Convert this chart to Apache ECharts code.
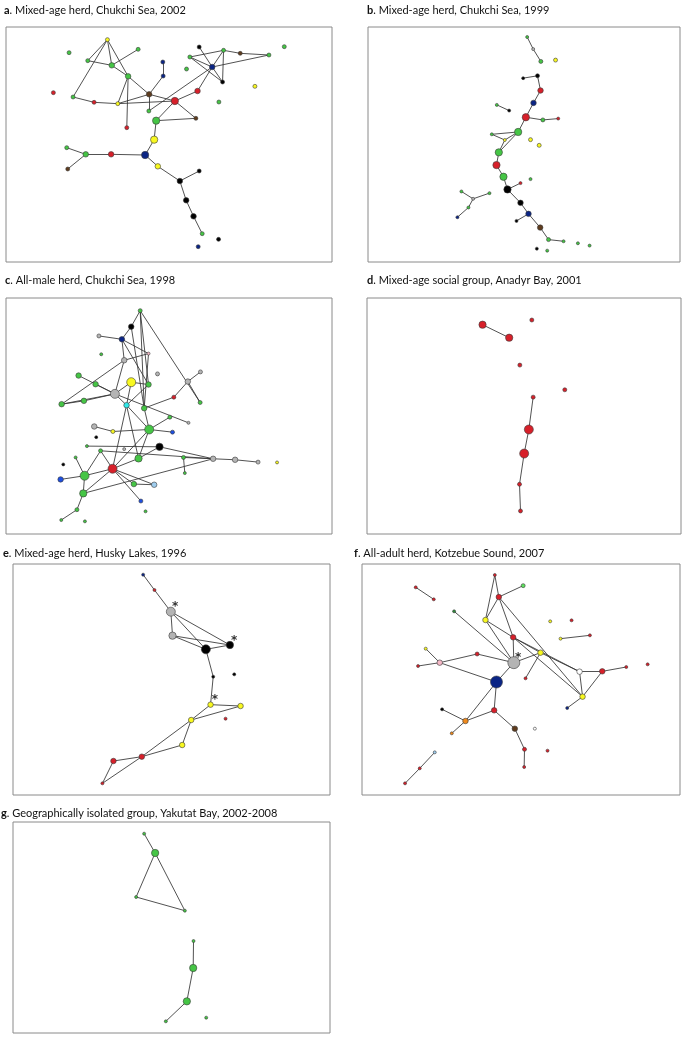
<!DOCTYPE html>
<html><head><meta charset="utf-8">
<script src="https://cdn.jsdelivr.net/npm/echarts/dist/echarts.min.js"></script>
<style>html,body{margin:0;padding:0;background:#fff}#c{width:685px;height:1038px}</style>
</head><body><div id="c"></div><script>
// ---- DATA (node: [x, y, sizeClass, colourKey, starFlag]; edges: [from, to], 1-based) ----
const titleLetters = ['a','b','c','d','e','f','g'];
const titleTexts = [
  'Mixed-age herd, Chukchi Sea, 2002',
  'Mixed-age herd, Chukchi Sea, 1999',
  'All-male herd, Chukchi Sea, 1998',
  'Mixed-age social group, Anadyr Bay, 2001',
  'Mixed-age herd, Husky Lakes, 1996',
  'All-adult herd, Kotzebue Sound, 2007',
  'Geographically isolated group, Yakutat Bay, 2002-2008'
];

const aNodes = [
 [322,118,2,'Y'],[207,157,2,'G'],[414,147,2,'G'],[263,181,2,'G'],[335,195,3,'G'],[384,228,3,'G'],
 [488,185,2,'N'],[489,227,2,'N'],[559,206,2,'G'],[597,140,2,'K'],[569,170,2,'G'],[670,150,2,'G'],
 [720,159,2,'B'],[806,164,2,'G'],[852,139,2,'G'],[636,200,3,'N'],[667,245,2,'K'],[764,258,2,'Y'],
 [160,277,2,'R'],[219,290,2,'G'],[282,306,2,'R'],[353,310,2,'Y'],[447,282,3,'B'],[524,302,4,'R'],
 [592,272,3,'R'],[656,305,2,'G'],[446,332,2,'G'],[380,382,2,'R'],[587,354,2,'B'],[468,361,4,'G'],
 [462,418,4,'Y'],[435,464,4,'N'],[200,442,2,'G'],[257,462,3,'G'],[333,462,3,'R'],[203,506,2,'B'],
 [473,498,3,'Y'],[539,542,3,'K'],[597,512,2,'K'],[558,600,3,'K'],[580,648,3,'K'],[606,700,2,'G'],
 [655,717,2,'K'],[594,739,2,'N']
];
const aEdges = [
 [1,4],[1,5],[1,6],[1,20],[4,5],[5,3],[5,6],[6,22],[6,28],[6,23],[20,21],[21,22],[22,23],[22,24],
 [23,8],[7,8],[23,24],[23,27],[24,25],[25,16],[27,16],[30,24],[24,29],[30,29],
 [16,10],[16,17],[16,11],[16,12],[16,14],[11,12],[11,17],[12,17],[12,13],[13,14],
 [30,31],[31,32],[32,35],[35,34],[34,33],[34,36],[32,37],[37,38],[38,39],[38,40],[40,41],[41,42]
];

const bNodes = [
 [502,112,1,'G'],[520,148,1,'W'],[543,185,2,'G'],[587,181,2,'Y'],[490,235,1,'K'],[533,228,2,'K'],
 [542,272,3,'R'],[521,309,3,'N'],[411,315,1,'G'],[448,332,1,'K'],[498,352,4,'R'],[549,360,2,'G'],
 [595,356,1,'R'],[475,396,4,'G'],[396,403,1,'G'],[435,420,1,'Y'],[512,419,2,'Y'],[538,436,2,'Y'],
 [417,457,4,'G'],[410,495,4,'R'],[431,530,4,'G'],[482,549,1,'R'],[512,537,1,'G'],[443,568,4,'K'],
 [305,574,1,'G'],[389,579,1,'G'],[340,596,1,'W'],[326,622,1,'G'],[293,651,1,'N'],[482,608,3,'K'],
 [506,641,3,'N'],[470,662,1,'K'],[541,682,3,'B'],[566,718,2,'G'],[611,723,1,'G'],[654,729,1,'G'],
 [689,736,1,'G'],[531,745,1,'K'],[562,751,1,'G']
];
const bEdges = [
 [1,2],[2,3],[5,6],[6,7],[7,8],[8,11],[9,10],[11,12],[12,13],[11,14],[14,15],[14,16],[15,16],
 [16,19],[14,19],[19,20],[20,21],[21,24],[24,22],[24,30],[30,31],[31,32],[31,33],[33,34],[34,35],
 [25,27],[26,27],[27,28],[28,29]
];

const cNodes = [
 [421,91,2,'G'],[394,139,3,'K'],[297,167,2,'W'],[366,177,3,'N'],[304,222,1,'G'],[446,220,1,'P'],
 [373,240,3,'W'],[473,281,2,'W'],[602,275,2,'W'],[564,304,3,'W'],[236,286,3,'G'],[287,312,3,'G'],
 [394,306,5,'Y'],[446,313,3,'G'],[345,341,5,'W'],[252,362,3,'G'],[185,372,3,'G'],[522,351,2,'R'],
 [601,367,2,'G'],[380,375,3,'C'],[433,384,3,'G'],[510,411,2,'G'],[566,428,1,'W'],[283,439,3,'W'],
 [339,454,2,'Y'],[448,448,5,'G'],[518,456,2,'U'],[289,471,1,'K'],[479,500,4,'K'],[261,498,1,'G'],
 [373,507,1,'W'],[302,512,2,'G'],[416,535,4,'G'],[551,532,2,'G'],[640,536,3,'W'],[706,539,3,'W'],
 [775,546,2,'W'],[832,547,1,'Y'],[190,553,1,'K'],[227,532,1,'G'],[338,566,5,'R'],[254,587,5,'G'],
 [182,598,3,'U'],[555,579,1,'G'],[402,612,3,'G'],[463,614,3,'L'],[250,640,4,'G'],[423,663,2,'U'],
 [437,694,1,'G'],[231,689,2,'G'],[184,720,1,'G'],[255,724,1,'G']
];
const cEdges = [
 [1,2],[1,14],[1,21],[1,19],[2,4],[2,21],[3,4],[4,6],[4,7],[4,14],[6,7],[6,21],[7,15],[17,7],
 [10,9],[10,18],[10,19],[18,21],[11,15],[12,15],[16,15],[17,15],[17,16],[13,15],[13,14],[13,20],
 [15,20],[15,23],[20,26],[20,33],[20,41],[20,14],[21,26],[22,26],[24,25],[25,26],[26,27],[26,41],
 [29,30],[29,35],[29,33],[32,35],[32,41],[32,42],[40,42],[42,43],[42,47],[42,41],[41,45],[41,46],
 [41,48],[41,33],[45,46],[47,41],[47,35],[47,50],[50,51],[34,35],[34,44],[35,36],[36,37],[33,26]
];

const dNodes = [
 [369,135,4,'R'],[449,174,4,'R'],[517,121,2,'R'],[481,256,2,'R'],[616,330,2,'R'],
 [521,352,2,'R'],[508,449,5,'R'],[494,521,5,'R'],[480,613,2,'R'],[483,693,2,'R']
];
const dEdges = [[1,2],[6,7],[7,8],[8,9],[9,10]];

const eNodes = [
 [415,74,1,'N'],[449,120,1,'R'],[498,185,5,'W',1],[503,257,4,'W'],[603,298,5,'K'],[675,285,4,'K',1],
 [625,380,1,'K'],[688,373,1,'K'],[617,464,3,'Y',1],[707,468,3,'Y'],[559,510,3,'Y'],[662,506,1,'R'],
 [532,585,3,'Y'],[411,620,3,'R'],[326,633,3,'R'],[293,700,1,'R']
];
const eEdges = [
 [1,2],[2,3],[3,4],[3,5],[3,6],[4,5],[4,6],[5,6],[5,7],[7,9],[9,10],[9,11],[10,11],[11,13],
 [11,14],[13,14],[14,15],[15,16],[14,16]
];

const fNodes = [
 [420,75,1,'R'],[505,107,2,'E'],[183,112,1,'R'],[237,148,1,'R'],[432,141,3,'R'],[298,184,1,'D'],
 [392,210,3,'Y'],[586,214,1,'Y'],[650,211,1,'R'],[475,262,3,'R'],[617,266,1,'Y'],[705,256,1,'R'],
 [213,296,1,'Y'],[557,308,3,'Y'],[367,312,2,'R'],[255,338,3,'P'],[190,348,1,'R'],[477,338,6,'W',1],
 [878,343,1,'R'],[814,351,1,'R'],[674,365,3,'H'],[742,364,3,'R'],[425,396,6,'N'],[512,385,1,'R'],
 [683,440,3,'Y'],[637,474,1,'N'],[262,478,1,'K'],[418,481,3,'R'],[332,513,3,'O'],[480,536,3,'B'],
 [540,536,1,'H'],[291,550,1,'O'],[240,607,1,'L'],[509,598,2,'R'],[578,602,1,'R'],[195,655,1,'R'],
 [508,651,1,'R'],[151,700,1,'R']
];
const fEdges = [
 [3,4],[1,5],[1,7],[5,7],[5,2],[5,25],[5,10],[7,10],[7,18],[6,18],[10,18],[10,14],[10,21],[10,25],
 [14,18],[14,24],[14,21],[21,22],[22,20],[22,25],[21,25],[25,26],[11,12],[15,16],[15,18],[16,17],
 [16,13],[16,23],[18,23],[23,28],[23,29],[28,29],[28,30],[30,34],[34,37],[27,29],[29,32],[33,36],[36,38]
];

const gNodes = [
 [418,70,1,'G'],[451,128,4,'G'],[394,260,1,'G'],[540,301,1,'G'],[566,392,1,'G'],
 [565,473,4,'G'],[546,573,4,'G'],[483,633,1,'G'],[604,622,1,'G']
];
const gEdges = [[1,2],[2,3],[2,4],[3,4],[5,6],[6,7],[7,8]];

// ---- STYLE / LAYOUT ----
const COL = {G:'#45c545',R:'#d7202a',N:'#0b2585',Y:'#f8f820',K:'#000000',W:'#b4b4b4',B:'#5e3c1e',
  C:'#30e8e8',L:'#9fcdee',P:'#f5b8c6',O:'#f08a1c',D:'#2e8b3a',H:'#ffffff',U:'#1e4fe0',E:'#5fe05f'};
const SIZES = [0,3,4,5.5,7.3,9,12];

const panels = [
 {nodes:aNodes, edges:aEdges, grid:[6,27,326,235],   ext:[18,995,80,785],  tl:[4,10]},
 {nodes:bNodes, edges:bEdges, grid:[368,27,312,235], ext:[25,960,82,785],  tl:[367,10]},
 {nodes:cNodes, edges:cEdges, grid:[6,298,326,236],  ext:[18,997,53,762],  tl:[5,280]},
 {nodes:dNodes, edges:dEdges, grid:[367,298,314,236],ext:[22,965,55,762],  tl:[367,280]},
 {nodes:eNodes, edges:eEdges, grid:[13,564,317,231], ext:[25,975,42,735],  tl:[3,553]},
 {nodes:fNodes, edges:fEdges, grid:[362,564,318,231],ext:[22,975,42,735],  tl:[354,553]},
 {nodes:gNodes, edges:gEdges, grid:[13,822,317,211], ext:[25,975,35,668],  tl:[1,813]}
];

const FONT = 'Lato';
const option = {animation:false, backgroundColor:'#fff', title:[], grid:[], xAxis:[], yAxis:[], series:[]};
panels.forEach((p,i)=>{
  option.title.push({
    text:'{b|'+titleLetters[i]+'}. '+titleTexts[i],
    left:p.tl[0], top:p.tl[1]-7, padding:0,
    textStyle:{fontFamily:FONT, fontSize:11, fontWeight:'normal', color:'#111', lineHeight:14,
      rich:{b:{fontFamily:FONT, fontSize:11, fontWeight:'bold', color:'#111', lineHeight:14}}}
  });
  option.grid.push({left:p.grid[0], top:p.grid[1], width:p.grid[2], height:p.grid[3],
    show:true, borderColor:'#8a8a8a', borderWidth:1, backgroundColor:'#fff', containLabel:false});
  option.xAxis.push({type:'value', gridIndex:i, min:p.ext[0], max:p.ext[1], show:false});
  option.yAxis.push({type:'value', gridIndex:i, min:p.ext[2], max:p.ext[3], show:false, inverse:true});
  option.series.push({
    type:'graph', coordinateSystem:'cartesian2d', xAxisIndex:i, yAxisIndex:i,
    symbol:'circle', silent:true, animation:false,
    itemStyle:{borderColor:'#3a3a3a', borderWidth:0.6},
    lineStyle:{color:'#333', width:0.85, opacity:1, curveness:0},
    data:p.nodes.map(n=>{
      const s = SIZES[n[2]];
      return {
        value:[n[0],n[1]], symbolSize:s, itemStyle:{color:COL[n[3]]},
        label: n[4] ? {show:true, formatter:'*', position:[s/2+1.5, s/2-10], fontSize:12, fontWeight:'bold',
          color:'#333', fontFamily:'DejaVu Sans'} : {show:false}
      };
    }),
    links:p.edges.map(e=>({source:e[0]-1, target:e[1]-1}))
  });
});
const chart = echarts.init(document.getElementById('c'), null, {renderer:'canvas'});
chart.setOption(option);
</script></body></html>
